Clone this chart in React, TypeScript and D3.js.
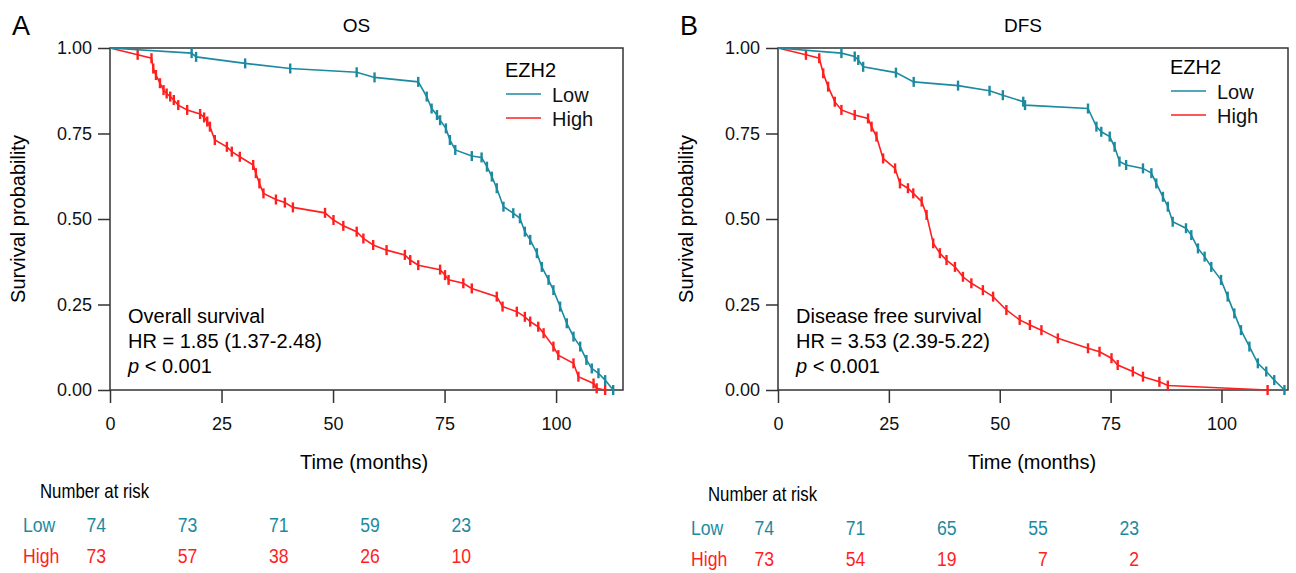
import React, { useEffect, useRef } from 'react';
import * as d3 from 'd3';

// time (months) / survival probability
const OS_LOW_T = [0, 18.3, 19.3, 30.3, 40.4, 55.3, 59.3, 69.1, 71.0, 72.1, 73.3, 74.0, 75.3, 76.2, 77.4, 81.1, 83.3, 84.5, 85.6, 86.7, 88.2, 90.4, 91.9, 93.0, 94.2, 95.7, 96.8, 98.3, 99.4, 100.9, 102.4, 103.9, 105.4, 106.8, 108.0, 109.5, 111.0, 112.8];
const OS_LOW_S = [1, 0.985, 0.974, 0.955, 0.94, 0.929, 0.914, 0.901, 0.858, 0.823, 0.804, 0.789, 0.765, 0.731, 0.702, 0.684, 0.68, 0.653, 0.624, 0.59, 0.536, 0.517, 0.502, 0.463, 0.439, 0.4, 0.36, 0.322, 0.292, 0.244, 0.195, 0.156, 0.127, 0.088, 0.063, 0.049, 0.029, 0];

const OS_HIGH_T = [0, 6.2, 9.3, 9.7, 10.3, 11.2, 12.0, 12.7, 13.5, 14.3, 15.3, 17.3, 20.2, 21.1, 21.8, 22.4, 23.5, 26.2, 27.3, 29.1, 32.1, 32.7, 33.5, 34.4, 37.2, 39.2, 41.0, 48.2, 50.1, 52.3, 55.3, 56.8, 59.0, 62.0, 66.1, 67.3, 69.1, 74.0, 75.1, 75.9, 79.2, 81.1, 86.7, 88.0, 91.2, 93.0, 94.2, 96.0, 97.2, 99.4, 100.5, 103.9, 105.0, 108.4, 109.1, 111.0];
const OS_HIGH_S = [1, 0.98, 0.97, 0.94, 0.921, 0.897, 0.877, 0.867, 0.858, 0.848, 0.833, 0.819, 0.807, 0.797, 0.785, 0.77, 0.731, 0.711, 0.697, 0.682, 0.658, 0.634, 0.604, 0.575, 0.557, 0.548, 0.534, 0.518, 0.497, 0.48, 0.463, 0.443, 0.424, 0.409, 0.395, 0.38, 0.365, 0.352, 0.336, 0.322, 0.312, 0.297, 0.273, 0.244, 0.229, 0.214, 0.2, 0.185, 0.166, 0.127, 0.102, 0.078, 0.039, 0.019, 0.005, 0];

const DFS_LOW_T = [0, 14.3, 17.3, 18.1, 19.2, 26.6, 30.6, 40.6, 47.7, 50.7, 55.3, 55.7, 69.9, 71.8, 72.9, 74.8, 75.9, 77.0, 78.5, 82.3, 84.2, 85.3, 86.8, 87.9, 89.0, 92.0, 93.2, 94.7, 96.2, 97.7, 99.9, 101.4, 102.9, 104.4, 106.3, 108.2, 110.1, 111.9, 114.2];
const DFS_LOW_S = [1, 0.985, 0.975, 0.965, 0.945, 0.928, 0.901, 0.89, 0.875, 0.862, 0.843, 0.833, 0.823, 0.77, 0.755, 0.741, 0.711, 0.668, 0.658, 0.648, 0.634, 0.604, 0.565, 0.536, 0.492, 0.473, 0.453, 0.414, 0.39, 0.36, 0.322, 0.273, 0.224, 0.175, 0.127, 0.078, 0.054, 0.029, 0];

const DFS_HIGH_T = [0, 6.3, 9.3, 10.2, 11.3, 12.8, 14.3, 17.3, 20.3, 21.1, 22.2, 23.7, 26.4, 27.5, 29.3, 30.5, 32.4, 33.5, 35.0, 36.5, 38.0, 39.9, 41.7, 43.6, 46.2, 48.5, 51.5, 54.5, 56.8, 59.4, 63.1, 69.9, 72.5, 75.2, 76.6, 80.0, 82.3, 86.0, 87.9, 110.4];
const DFS_HIGH_S = [1, 0.98, 0.97, 0.926, 0.887, 0.843, 0.819, 0.804, 0.794, 0.77, 0.741, 0.677, 0.648, 0.604, 0.59, 0.575, 0.551, 0.512, 0.429, 0.4, 0.38, 0.36, 0.331, 0.312, 0.292, 0.273, 0.234, 0.205, 0.19, 0.175, 0.151, 0.122, 0.112, 0.093, 0.073, 0.054, 0.039, 0.024, 0.013, 0];

const TIME_TICKS = [0, 25, 50, 75, 100];
const SURV_TICKS = [0, 0.25, 0.5, 0.75, 1];
const GROUPS = ['Low', 'High'];

const OS_RISK_LOW = [74, 73, 71, 59, 23];
const OS_RISK_HIGH = [73, 57, 38, 26, 10];
const DFS_RISK_LOW = [74, 71, 65, 55, 23];
const DFS_RISK_HIGH = [73, 54, 19, 7, 2];

const TEAL = '#1b8aa0';
const RED = '#ff1f1f';
const FONT = '"Liberation Sans", Arial, sans-serif';

const panels = [
  {
    letter: 'A', title: 'OS', left: 110, width: 513, riskTop: 498,
    note: 'Overall survival', hr: 'HR = 1.85 (1.37-2.48)',
    low: [OS_LOW_T, OS_LOW_S], high: [OS_HIGH_T, OS_HIGH_S],
    riskLow: OS_RISK_LOW, riskHigh: OS_RISK_HIGH,
    legendY: 0
  },
  {
    letter: 'B', title: 'DFS', left: 778, width: 510, riskTop: 501,
    note: 'Disease free survival', hr: 'HR = 3.53 (2.39-5.22)',
    low: [DFS_LOW_T, DFS_LOW_S], high: [DFS_HIGH_T, DFS_HIGH_S],
    riskLow: DFS_RISK_LOW, riskHigh: DFS_RISK_HIGH,
    legendY: -3
  }
];

const drawPanel = (svg, p) => {
  const top = 48;
  const bottom = 390;
  const x = d3.scaleLinear().domain([0, 115]).range([p.left, p.left + p.width]);
  const y = d3.scaleLinear().domain([0, 1]).range([bottom, top]);
  const g = svg.append('g').style('font-family', FONT);

  g.append('text')
    .attr('x', p.left - 98).attr('y', 35)
    .style('font-size', '27px').text(p.letter);

  g.append('text')
    .attr('x', p.left + p.width / 2 - 10).attr('y', 32)
    .attr('text-anchor', 'middle')
    .style('font-size', '19px').text(p.title);

  // frame
  g.append('rect')
    .attr('x', p.left).attr('y', top)
    .attr('width', p.width).attr('height', bottom - top)
    .attr('fill', 'none').attr('stroke', '#333').attr('stroke-width', 1.5);

  const yAxis = g.append('g')
    .attr('transform', `translate(${p.left},0)`)
    .call(d3.axisLeft(y).tickValues(SURV_TICKS).tickFormat(d3.format('.2f')).tickSize(12).tickPadding(6));
  const xAxis = g.append('g')
    .attr('transform', `translate(0,${bottom})`)
    .call(d3.axisBottom(x).tickValues(TIME_TICKS).tickSize(13).tickPadding(14));
  [yAxis, xAxis].forEach(a => {
    a.select('.domain').remove();
    a.selectAll('line').attr('stroke', '#333').attr('stroke-width', 1.5);
    a.selectAll('text').style('font-size', '18px').style('font-family', FONT).attr('fill', '#111');
  });

  g.append('text')
    .attr('transform', `translate(${p.left - 85},${(top + bottom) / 2}) rotate(-90)`)
    .attr('text-anchor', 'middle')
    .style('font-size', '20px').text('Survival probability');

  g.append('text')
    .attr('x', p.left + 254).attr('y', 469)
    .attr('text-anchor', 'middle')
    .style('font-size', '20px').text('Time (months)');

  // curves with censor ticks
  const line = d3.line().x(d => x(d[0])).y(d => y(d[1]));
  [[p.high, RED], [p.low, TEAL]].forEach(([[ts, ss], color]) => {
    const pts = ts.map((t, i) => [t, ss[i]]);
    g.append('path')
      .datum(pts)
      .attr('d', line)
      .attr('fill', 'none')
      .attr('stroke', color)
      .attr('stroke-width', 1.6);
    g.selectAll(null)
      .data(pts.slice(1))
      .enter()
      .append('line')
      .attr('x1', d => x(d[0])).attr('x2', d => x(d[0]))
      .attr('y1', d => y(d[1]) - 5).attr('y2', d => y(d[1]) + 5)
      .attr('stroke', color)
      .attr('stroke-width', 2.4);
  });

  // annotation
  const ann = g.append('g').style('font-size', '20px');
  ann.append('text').attr('x', p.left + 18).attr('y', 323).text(p.note);
  ann.append('text').attr('x', p.left + 18).attr('y', 348).text(p.hr);
  const pt = ann.append('text').attr('x', p.left + 18).attr('y', 373);
  pt.append('tspan').style('font-style', 'italic').text('p');
  pt.append('tspan').text(' < 0.001');

  // legend
  const lx = p.left + p.width - 118;
  const lg = g.append('g').attr('transform', `translate(${lx},${p.legendY})`).style('font-size', '20px');
  lg.append('text').attr('x', 0).attr('y', 77).text('EZH2');
  GROUPS.forEach((grp, i) => {
    const color = grp === 'Low' ? TEAL : RED;
    const ly = 94 + i * 24;
    lg.append('line')
      .attr('x1', 1).attr('x2', 36)
      .attr('y1', ly).attr('y2', ly)
      .attr('stroke', color).attr('stroke-width', 1.6);
    lg.append('text').attr('x', 47).attr('y', ly + 8).attr('fill', '#111').text(grp);
  });

  // number at risk table
  const rx = d3.scaleLinear().domain([0, 100]).range([p.left - 4, p.left + 361]);
  const condensed = (sel, xx, yy) => sel.attr('transform', `translate(${xx},${yy}) scale(0.84,1)`);
  g.append('text')
    .call(condensed, p.left - 70, p.riskTop)
    .style('font-size', '20px').text('Number at risk');
  GROUPS.forEach((grp, i) => {
    const color = grp === 'Low' ? TEAL : RED;
    const vals = grp === 'Low' ? p.riskLow : p.riskHigh;
    const ry = p.riskTop + 34 + i * 31;
    g.append('text')
      .call(condensed, p.left - 87, ry)
      .attr('fill', color)
      .style('font-size', '21px').text(grp);
    g.selectAll(null)
      .data(vals)
      .enter()
      .append('text')
      .each(function (d, j) {
        d3.select(this).call(condensed, rx(TIME_TICKS[j]), ry);
      })
      .attr('text-anchor', 'end')
      .attr('fill', color)
      .style('font-size', '21px')
      .text(d => d);
  });
};

const App = () => {
  const svgRef = useRef(null);

  useEffect(() => {
    const svg = d3.select(svgRef.current);
    svg.selectAll('*').remove();
    panels.forEach(p => drawPanel(svg, p));
  }, []);

  return (
    <svg
      ref={svgRef}
      width={1296}
      height={573}
      style={{ position: 'absolute', left: 0, top: 0, background: '#fff' }}
    />
  );
};

export default App;
